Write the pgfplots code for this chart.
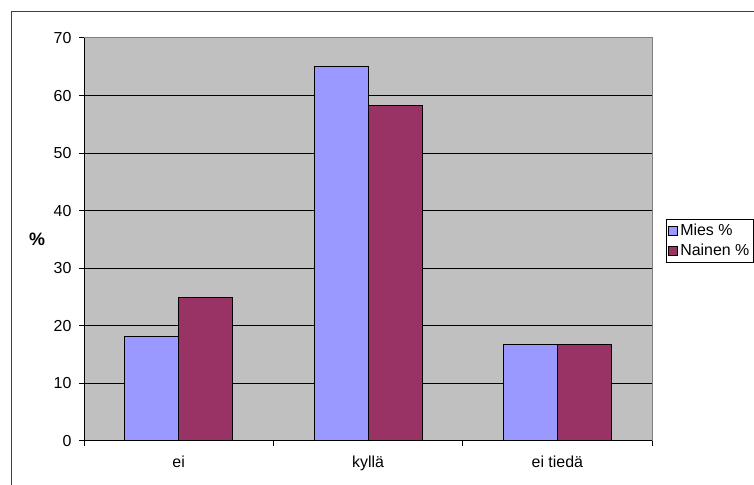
\documentclass[border=0pt]{standalone}
\usepackage{fontspec}
\setmainfont{Liberation Sans}
\usepackage{pgfplots}
\pgfplotsset{compat=1.18}
\definecolor{mies}{HTML}{9999FF}
\definecolor{nainen}{HTML}{993366}
\definecolor{plotbg}{HTML}{C0C0C0}
\definecolor{frame}{HTML}{404040}
\newcommand{\chartfont}{\fontsize{16}{19}\selectfont}
\begin{document}
\begin{tikzpicture}[x=1bp,y=1bp]
\path[use as bounding box] (0,0) rectangle (754,485);
\draw[frame, line width=1bp] (11,0) -- (11,473) -- (754,473);
\begin{axis}[
  at={(84bp,44bp)}, anchor=south west, scale only axis,
  width=568bp, height=403bp,
  ybar=0pt, bar width=54bp,
  xmin=-0.5, xmax=2.5, ymin=0, ymax=70,
  ytick={0,10,...,70},
  xtick={0,1,2}, xticklabels={ei,kyllä,ei tiedä},
  minor xtick={-0.5,0.5,1.5,2.5},
  xtick pos=bottom, ytick pos=left,
  tick align=outside, major tick length=5bp, minor tick length=5bp,
  major x tick style={draw=none},
  tick style={black, line width=1bp},
  minor tick style={black, line width=1bp},
  axis line style={draw=none},
  axis background/.style={fill=plotbg},
  ymajorgrids, grid style={black, line width=1bp},
  /pgf/number format/assume math mode=true,
  tick label style={font=\chartfont},
  yticklabel style={anchor=east, xshift=-4bp},
  xticklabel style={yshift=-6bp},
  ylabel={\textbf{\%}},
  ylabel style={font=\fontsize{18}{21}\selectfont, at={(rel axis cs:0,0.5)}, anchor=center, rotate=-90, xshift=-47bp},
  legend style={at={(1.0246,0.552)}, anchor=north west, draw=black, fill=white,
    font=\chartfont, inner xsep=2bp, inner ysep=3bp, row sep=3bp,
    cells={anchor=west, inner xsep=3bp},
    line width=1bp},
  legend image code/.code={\draw[#1, draw=black, line width=0.8bp] (0bp,-4.5bp) rectangle (9bp,4.5bp);},
  after end axis/.code={
    \draw[gray, line width=1bp] (rel axis cs:0,1) -- (rel axis cs:1,1) -- (rel axis cs:1,0);
    \draw[black, line width=1bp] (rel axis cs:0,1) -- (rel axis cs:0,0) -- (rel axis cs:1,0);
  },
]
\addplot[fill=mies, draw=black, line width=1bp] coordinates {(0,18.2) (1,65.1) (2,16.7)};
\addplot[fill=nainen, draw=black, line width=1bp] coordinates {(0,25.0) (1,58.3) (2,16.7)};
\legend{Mies \%, Nainen \%}
\end{axis}
\end{tikzpicture}
\end{document}
